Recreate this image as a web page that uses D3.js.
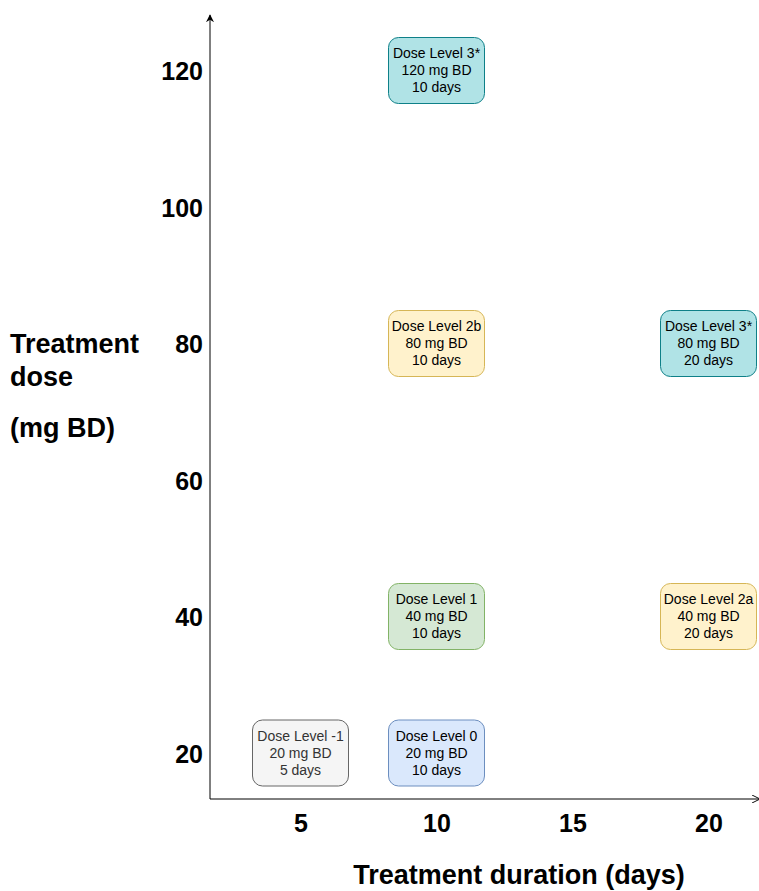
<!DOCTYPE html>
<html>
<head>
<meta charset="utf-8">
<script src="https://cdn.jsdelivr.net/npm/d3@7"></script>
<style>
  html, body { margin: 0; padding: 0; background: #fff; overflow: hidden; }
  svg { display: block; font-family: "Liberation Sans", Arial, Helvetica, sans-serif; }
</style>
</head>
<body>
<svg id="chart" width="759" height="891"></svg>
<script>
// ---- data ----
const levels    = ["Dose Level -1", "Dose Level 0", "Dose Level 1", "Dose Level 2a", "Dose Level 2b", "Dose Level 3*", "Dose Level 3*"];
const durations = [5, 10, 10, 20, 10, 10, 20];          // days
const doses     = [20, 20, 40, 40, 80, 120, 80];        // mg BD
const xTicks    = [5, 10, 15, 20];
const yTicks    = [20, 40, 60, 80, 100, 120];
const xTitle    = "Treatment duration (days)";
const yTitle    = ["Treatment", "dose", "(mg BD)"];

// ---- styles ----
const levelKeys = ["Dose Level -1", "Dose Level 0", "Dose Level 1", "Dose Level 2a", "Dose Level 2b", "Dose Level 3*"];
const fillScale   = d3.scaleOrdinal().domain(levelKeys).range(["#f5f5f5", "#dae8fc", "#d5e8d4", "#fff2cc", "#fff2cc", "#b0e3e6"]);
const strokeScale = d3.scaleOrdinal().domain(levelKeys).range(["#666666", "#6c8ebf", "#82b366", "#d6b656", "#d6b656", "#0e8088"]);
const textScale   = d3.scaleOrdinal().domain(levelKeys).range(["#333333", "#000000", "#000000", "#000000", "#000000", "#000000"]);

const svg = d3.select("#chart");

const x = d3.scaleLinear().domain([5, 20]).range([300.5, 708.5]);
const y = d3.scaleLinear().domain([20, 120]).range([753, 70.5]);

const axisX0 = 210, axisY0 = 799;

// arrow markers
const defs = svg.append("defs");
defs.append("marker")
  .attr("id", "arrowFilled")
  .attr("viewBox", "0 0 10 10").attr("refX", 9).attr("refY", 5)
  .attr("markerWidth", 8).attr("markerHeight", 8).attr("markerUnits", "userSpaceOnUse")
  .attr("orient", "auto")
  .append("path").attr("d", "M0,0 L10,5 L0,10 L3,5 Z").attr("fill", "#000");
defs.append("marker")
  .attr("id", "arrowOpen")
  .attr("viewBox", "0 0 10 10").attr("refX", 10).attr("refY", 5)
  .attr("markerWidth", 8).attr("markerHeight", 8).attr("markerUnits", "userSpaceOnUse")
  .attr("orient", "auto")
  .append("path").attr("d", "M0,0 L10,5 L0,10").attr("fill", "none").attr("stroke", "#000").attr("stroke-width", 1.2);

// axis lines
svg.append("line")
  .attr("x1", axisX0).attr("y1", axisY0).attr("x2", axisX0).attr("y2", 15)
  .attr("stroke", "#000").attr("stroke-width", 1)
  .attr("marker-end", "url(#arrowFilled)");
svg.append("line")
  .attr("x1", axisX0).attr("y1", axisY0).attr("x2", 760).attr("y2", axisY0)
  .attr("stroke", "#000").attr("stroke-width", 1)
  .attr("marker-end", "url(#arrowOpen)");

// tick labels via d3 axes
const gx = svg.append("g").attr("transform", `translate(0, ${axisY0})`)
  .call(d3.axisBottom(x).tickValues(xTicks).tickSize(0).tickPadding(0).tickFormat(d3.format("d")));
gx.select(".domain").remove();
gx.selectAll("text")
  .attr("y", 0).attr("dy", 0).attr("transform", "translate(0, 33)")
  .attr("font-family", "'Liberation Sans', Arial, sans-serif")
  .attr("font-size", 25).attr("font-weight", "bold").attr("fill", "#000");

const gy = svg.append("g").attr("transform", `translate(${axisX0}, 0)`)
  .call(d3.axisLeft(y).tickValues(yTicks).tickSize(0).tickPadding(7).tickFormat(d3.format("d")));
gy.select(".domain").remove();
gy.selectAll("text")
  .attr("dy", "0.36em")
  .attr("font-family", "'Liberation Sans', Arial, sans-serif")
  .attr("font-size", 25).attr("font-weight", "bold").attr("fill", "#000");

// axis titles
svg.append("text")
  .attr("x", 519).attr("y", 884).attr("text-anchor", "middle")
  .attr("font-size", 27).attr("font-weight", "bold").attr("fill", "#000")
  .text(xTitle);

const yTitleY = [353, 386, 437];
svg.selectAll(".ytitle").data(yTitle).enter().append("text")
  .attr("class", "ytitle")
  .attr("x", 10).attr("y", (d, i) => yTitleY[i])
  .attr("font-size", 27).attr("font-weight", "bold").attr("fill", "#000")
  .text(d => d);

// boxes
const boxes = levels.map((l, i) => ({ level: l, dur: durations[i], dose: doses[i] }));
const bw = 96, bh = 66;
const g = svg.selectAll(".box").data(boxes).enter().append("g")
  .attr("class", "box")
  .attr("transform", d => `translate(${x(d.dur)}, ${y(d.dose)})`);

g.append("rect")
  .attr("x", -bw / 2).attr("y", -bh / 2).attr("width", bw).attr("height", bh)
  .attr("rx", 10).attr("ry", 10)
  .attr("fill", d => fillScale(d.level))
  .attr("stroke", d => strokeScale(d.level))
  .attr("stroke-width", 1);

g.each(function (d) {
  const lines = [d.level, `${d.dose} mg BD`, `${d.dur} days`];
  d3.select(this).selectAll("text").data(lines).enter().append("text")
    .attr("x", 0).attr("y", (t, i) => (i - 1) * 17)
    .attr("dy", "0.35em")
    .attr("text-anchor", "middle")
    .attr("font-size", 14)
    .attr("fill", textScale(d.level))
    .text(t => t);
});
</script>
</body>
</html>
